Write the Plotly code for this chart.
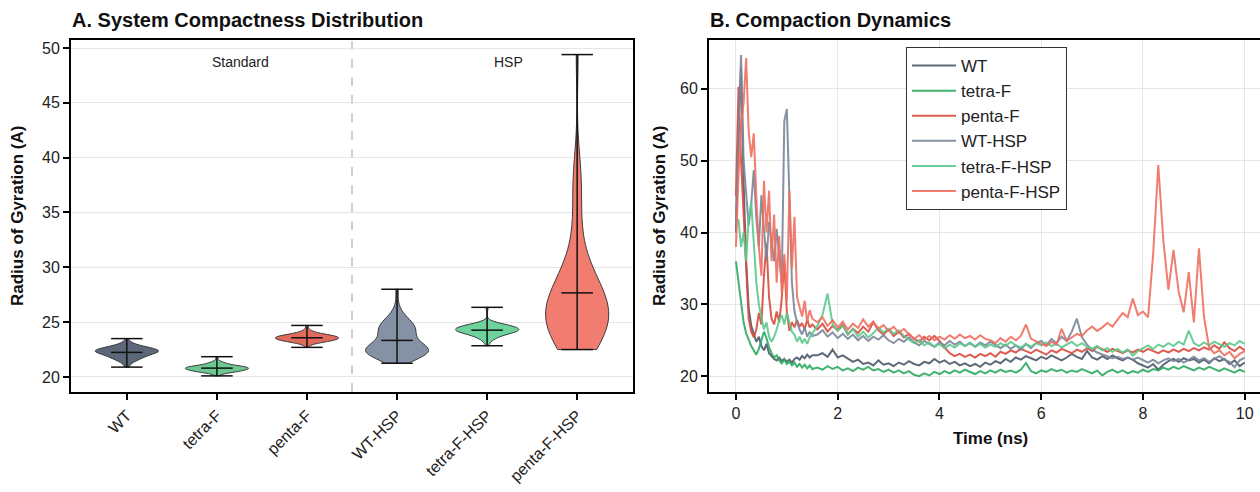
import numpy as np
import plotly.graph_objects as go

# ---------------- data ----------------
labels = ["WT", "tetra-F", "penta-F", "WT-HSP", "tetra-F-HSP", "penta-F-HSP"]

time_early = np.round(np.arange(0, 1.5001, 0.05), 2)   # 0 .. 1.5 ns
time_late = np.round(np.arange(1.6, 10.0001, 0.1), 2)  # 1.6 .. 10 ns
time_ns = np.concatenate([time_early, time_late])

wt_early = [40.0, 55.0, 62.9, 46.9, 36.0, 29.5, 27.0, 25.8, 24.8, 25.5, 24.2, 23.6, 24.5, 23.2, 22.8,
            22.4, 22.2, 22.6, 22.1, 22.4, 22.0, 22.3, 21.9, 22.4, 22.6, 22.3, 22.8, 22.5, 23.0, 22.6, 22.9]
wt_late = [22.9, 23.2, 22.7, 23.7, 22.6, 22.9, 22.4, 22.0, 22.3, 21.7,
           21.9, 21.5, 22.2, 21.6, 21.8, 21.4, 21.9, 21.6, 22.1, 21.7,
           21.5, 22.0, 21.8, 22.4, 21.9, 22.2, 21.7, 22.0, 21.5, 21.8,
           21.4, 21.7, 21.3, 21.9, 21.6, 22.1, 21.8, 22.4, 22.0, 22.6,
           22.3, 22.8, 22.5, 22.2, 22.7, 22.4, 22.9, 22.5, 22.2, 22.6,
           23.1, 22.7, 22.4, 23.5, 22.6, 22.3, 22.8, 22.4, 22.9, 22.5,
           22.2, 22.6, 22.3, 21.8, 21.5, 21.2, 21.7, 20.9, 21.6, 22.1,
           22.4, 22.0, 22.5, 22.2, 22.4, 21.9, 22.3, 21.8, 22.5, 22.1,
           22.4, 21.7, 22.2, 21.4, 21.9]

tetra_early = [36.0, 33.0, 30.0, 27.5, 26.0, 25.0, 24.2, 23.6, 23.0, 23.8, 25.0, 26.2, 25.3, 24.0, 23.2,
               22.6, 22.9, 22.2, 21.8, 22.3, 21.7, 22.0, 21.5, 21.9, 21.3, 21.7, 21.2, 21.6, 21.1, 21.5, 21.0]
tetra_late = [21.2, 20.9, 21.4, 21.0, 21.3, 20.8, 21.1, 20.7, 21.2, 20.9,
              21.3, 20.8, 21.0, 20.6, 20.9, 20.5, 20.8, 20.4, 20.7, 20.2,
              20.0, 20.4, 20.1, 20.6, 20.3, 20.7, 20.4, 20.8, 20.5, 20.9,
              20.6, 20.3, 20.7, 20.4, 20.8, 20.5, 20.9, 20.6, 20.8, 20.5,
              20.9, 21.85, 20.7, 20.4, 20.8, 20.6, 21.0, 20.7, 20.9, 20.5,
              20.8, 20.6, 21.0, 20.7, 20.4, 20.8, 20.1, 20.6, 20.9, 20.5,
              20.8, 20.4, 20.7, 20.5, 20.9, 20.6, 21.0, 20.8, 21.2, 20.9,
              21.3, 21.0, 21.4, 21.1, 20.8, 21.2, 20.9, 21.3, 21.0, 20.7,
              21.1, 20.8, 20.5, 20.9, 20.6]

penta_early = [45.0, 60.3, 50.0, 42.0, 35.0, 28.0, 26.2, 25.4, 26.5, 28.8, 27.2, 34.0, 38.5, 31.0, 28.0,
               27.2, 29.0, 27.5, 30.8, 36.0, 29.0, 26.3, 27.5, 26.8, 27.8, 26.9, 27.4, 26.5, 27.9, 26.8, 27.2]
penta_late = [26.5, 27.3, 26.2, 27.0, 26.4, 27.2, 25.8, 26.6, 26.0, 26.9,
              26.2, 27.5, 26.4, 25.8, 26.5, 25.6, 26.2, 25.4, 25.9, 25.2,
              24.8, 25.5, 25.0, 25.6, 24.9, 24.0, 23.2, 22.8, 23.1, 22.7,
              23.0, 22.6, 23.1, 22.8, 23.2, 22.7, 23.4, 23.1, 23.6, 23.3,
              23.8, 23.5, 23.2, 23.7, 23.4, 23.0, 23.6, 23.3, 23.8, 23.5,
              23.2, 23.7, 23.4, 23.9, 23.5, 24.1, 23.7, 23.4, 23.8, 23.5,
              23.2, 23.6, 23.3, 23.7, 23.4, 23.8, 23.5, 23.2, 23.6, 23.3,
              23.7, 23.4, 23.8, 23.5, 23.9, 23.6, 24.0, 23.7, 24.3, 23.8,
              24.7, 23.9, 23.5, 24.1, 23.6]

wthsp_early = [42.0, 55.0, 64.7, 50.0, 46.0, 41.0, 44.0, 48.7, 42.0, 38.0, 45.2, 40.0, 36.0, 41.5, 38.5,
               36.0, 40.5, 37.0, 33.0, 55.5, 57.2, 45.0, 33.0, 29.0, 27.5, 26.5, 25.8, 26.8, 25.5, 26.2, 25.6]
wthsp_late = [25.8, 26.4, 25.5, 26.1, 25.3, 25.9, 25.2, 25.8, 25.0, 25.6,
              24.9, 25.5, 25.1, 25.7, 25.0, 24.6, 25.2, 24.8, 25.4, 24.7,
              24.3, 24.9, 24.5, 24.1, 24.7, 24.3, 24.9, 24.4, 24.8, 24.2,
              24.6, 24.1, 24.7, 24.3, 24.8, 24.4, 23.9, 24.4, 23.8, 24.3,
              23.7, 24.5, 23.9, 24.6, 24.9, 24.3, 25.2, 24.6, 25.5, 24.9,
              26.2, 28.0, 25.4, 24.4, 23.7, 23.3, 23.0, 22.7, 22.5, 22.7,
              22.4, 22.6, 22.3, 22.6, 22.2, 21.9, 22.3, 21.8, 22.2, 22.5,
              22.1, 22.4, 21.9, 22.3, 22.7, 22.2, 22.5, 22.0, 22.4, 22.8,
              22.3, 22.0, 21.25, 22.2, 22.6]

tetrahsp_early = [42.0, 41.7, 38.0, 40.0, 36.0, 42.0, 44.2, 38.0, 33.0, 30.0, 28.0, 26.5, 27.5, 25.5, 24.8,
                  25.5, 26.5, 27.8, 28.5, 27.2, 28.8, 27.5, 26.2, 25.8, 24.8, 25.5, 24.6, 25.2, 24.5, 25.4, 26.0]
tetrahsp_late = [27.0, 28.5, 31.5, 27.2, 26.3, 27.0, 25.8, 26.6, 25.5, 26.2,
                 25.4, 26.0, 26.8, 26.1, 26.6, 25.9, 26.4, 25.6, 25.1, 24.6,
                 25.0, 24.3, 24.7, 24.1, 24.5, 23.9, 24.4, 24.0, 24.6, 24.2,
                 24.7, 24.1, 24.5, 24.0, 24.4, 24.1, 24.6, 24.2, 24.8, 24.3,
                 24.0, 24.5, 24.1, 24.6, 24.3, 24.7, 24.2, 24.5, 24.0, 24.4,
                 24.8, 24.2, 24.6, 24.1, 23.8, 24.2, 23.6, 23.9, 23.4, 23.8,
                 23.3, 23.7, 22.85, 23.5, 23.9, 24.3, 23.8, 24.4, 24.1, 24.6,
                 24.2, 24.8, 24.4, 26.35, 24.6, 24.2, 24.7, 24.3, 24.8, 24.4,
                 24.1, 24.6, 24.3, 24.9, 24.5]

pentahsp_early = [38.0, 48.0, 55.0, 58.0, 64.3, 54.0, 50.5, 53.8, 45.0, 38.0, 34.0, 47.2, 40.0, 45.8, 36.0,
                  42.5, 33.0, 39.5, 31.5, 37.0, 30.5, 45.8, 35.0, 42.2, 31.0, 29.5, 28.3, 30.5, 27.6, 29.2, 28.0]
pentahsp_late = [27.5, 28.2, 27.0, 27.8, 26.8, 27.6, 26.5, 27.3, 26.7, 27.9,
                 26.9, 27.6, 26.6, 27.1, 26.3, 26.9, 26.0, 26.6, 25.8, 25.2,
                 25.7, 25.1, 25.6, 25.0, 25.5, 25.1, 25.7, 25.2, 25.8, 25.3,
                 25.6, 25.1, 25.7, 25.2, 25.0, 24.6, 25.3, 24.8, 25.5, 25.0,
                 25.6, 27.2, 25.2, 24.8, 24.5, 24.2, 24.8, 24.4, 26.6, 24.9,
                 25.4, 25.9, 25.6, 26.4, 26.9, 26.3, 26.8, 27.4, 26.9, 27.8,
                 28.8, 28.2, 30.8, 28.5, 29.0, 28.2, 37.0, 49.4, 38.9, 32.0,
                 37.6, 31.8, 28.9, 34.5, 27.5, 37.8, 28.2, 24.0, 23.2, 23.6,
                 22.9, 23.4, 22.5, 23.1, 23.5]

rg_series = [
    np.array(wt_early + wt_late),
    np.array(tetra_early + tetra_late),
    np.array(penta_early + penta_late),
    np.array(wthsp_early + wthsp_late),
    np.array(tetrahsp_early + tetrahsp_late),
    np.array(pentahsp_early + pentahsp_late),
]

# ---------------- style ----------------
line_colors = ["#4d5a6c", "#2eaa62", "#d94c3d", "#7a879a", "#5cc98c", "#ef6f60"]
fill_colors = ["#5c6779", "#6cc891", "#e06a5c", "#8591a5", "#6ed29b", "#f07d70"]
FONT = "Liberation Sans, Arial, sans-serif"
W, H = 1260, 492

def px_x(p):
    return p / W

def px_y(p):
    return 1 - p / H

fig = go.Figure()

# ---------------- violins (equilibrated half: t >= 5 ns) ----------------
mask = time_ns >= 5.0 - 1e-9
for i, (lab, rg) in enumerate(zip(labels, rg_series)):
    s = rg[mask]
    bw = 1.15 * np.std(s, ddof=1) * len(s) ** (-1 / 5)
    fig.add_trace(go.Violin(
        x=[i] * len(s), y=s, name=lab, xaxis="x", yaxis="y",
        width=0.7, scalegroup=lab, spanmode="hard", bandwidth=bw,
        points=False, box_visible=False, meanline_visible=False,
        fillcolor=fill_colors[i], line=dict(color="#3c3c3c", width=1),
        opacity=1, showlegend=False, hoverinfo="skip"))
    mn, mx, mean = float(s.min()), float(s.max()), float(s.mean())
    h = 0.175
    fig.add_trace(go.Scatter(
        x=[i, i, None, i - h, i + h, None, i - h, i + h, None, i - h, i + h],
        y=[mn, mx, None, mn, mn, None, mx, mx, None, mean, mean],
        mode="lines", line=dict(color="#111111", width=1.5),
        xaxis="x", yaxis="y", showlegend=False, hoverinfo="skip"))

# ---------------- time series ----------------
for i, (lab, rg) in enumerate(zip(labels, rg_series)):
    fig.add_trace(go.Scatter(
        x=time_ns, y=rg, mode="lines", name=lab, legendgroup=lab,
        line=dict(color=line_colors[i], width=2), opacity=0.9,
        xaxis="x2", yaxis="y2"))

axis_common = dict(showline=True, linecolor="black", linewidth=2, ticks="outside",
                   ticklen=6, tickwidth=1.5, tickcolor="black", zeroline=False,
                   gridcolor="#e6e6e6", gridwidth=1,
                   tickfont=dict(family=FONT, size=16, color="#222222"))

fig.update_layout(
    width=W, height=H, margin=dict(l=0, r=0, t=0, b=0),
    paper_bgcolor="white", plot_bgcolor="white",
    font=dict(family=FONT, size=14, color="#222222"),
    xaxis=dict(domain=[px_x(71), px_x(633)], range=[-0.62, 5.62],
               tickvals=list(range(len(labels))), ticktext=labels, tickangle=-45,
               showgrid=False, mirror=True, anchor="y", **axis_common),
    yaxis=dict(domain=[px_y(392), px_y(40)], range=[18.63, 50.73], dtick=5,
               showgrid=True, mirror=True, anchor="x", **axis_common),
    xaxis2=dict(domain=[px_x(709), 1.0], range=[-0.53, 10.30], tickvals=[0, 2, 4, 6, 8, 10],
                showgrid=True, mirror=True, anchor="y2", **axis_common),
    yaxis2=dict(domain=[px_y(392), px_y(40)], range=[17.8, 66.8], dtick=10,
                showgrid=True, mirror=False, anchor="x2", **axis_common),
    legend=dict(x=px_x(906), y=px_y(47), xanchor="left", yanchor="top",
                bgcolor="white", bordercolor="#333333", borderwidth=1,
                font=dict(family=FONT, size=17, color="#222222"),
                tracegroupgap=0, itemwidth=44),
    violinmode="overlay",
    shapes=[dict(type="line", xref="x", yref="y domain", x0=2.5, x1=2.5, y0=0, y1=1,
                 line=dict(color="#c0c0c0", width=1.5, dash="dash"), layer="below")],
    annotations=[
        dict(text="A. System Compactness Distribution", xref="paper", yref="paper",
             x=px_x(70), y=px_y(20), xanchor="left", yanchor="middle", showarrow=False,
             font=dict(family=FONT, size=20, color="#111111", weight="bold")),
        dict(text="B. Compaction Dynamics", xref="paper", yref="paper",
             x=px_x(708), y=px_y(20), xanchor="left", yanchor="middle", showarrow=False,
             font=dict(family=FONT, size=20, color="#111111", weight="bold")),
        dict(text="Radius of Gyration (A)", xref="paper", yref="paper",
             x=px_x(18), y=px_y(216), xanchor="center", yanchor="middle", textangle=-90,
             showarrow=False, font=dict(family=FONT, size=17, color="#111111", weight="bold")),
        dict(text="Radius of Gyration (A)", xref="paper", yref="paper",
             x=px_x(660), y=px_y(216), xanchor="center", yanchor="middle", textangle=-90,
             showarrow=False, font=dict(family=FONT, size=17, color="#111111", weight="bold")),
        dict(text="Time (ns)", xref="paper", yref="paper",
             x=px_x(990), y=px_y(438), xanchor="center", yanchor="middle",
             showarrow=False, font=dict(family=FONT, size=17, color="#111111", weight="bold")),
        dict(text="Standard", xref="x", yref="y", x=1.26, y=48.7, xanchor="center",
             yanchor="middle", showarrow=False, font=dict(family=FONT, size=14, color="#222222")),
        dict(text="HSP", xref="x", yref="y", x=4.24, y=48.7, xanchor="center",
             yanchor="middle", showarrow=False, font=dict(family=FONT, size=14, color="#222222")),
    ],
)

fig.write_html("out.html", config={"displayModeBar": False},
               post_script="document.body.style.margin='0';")
